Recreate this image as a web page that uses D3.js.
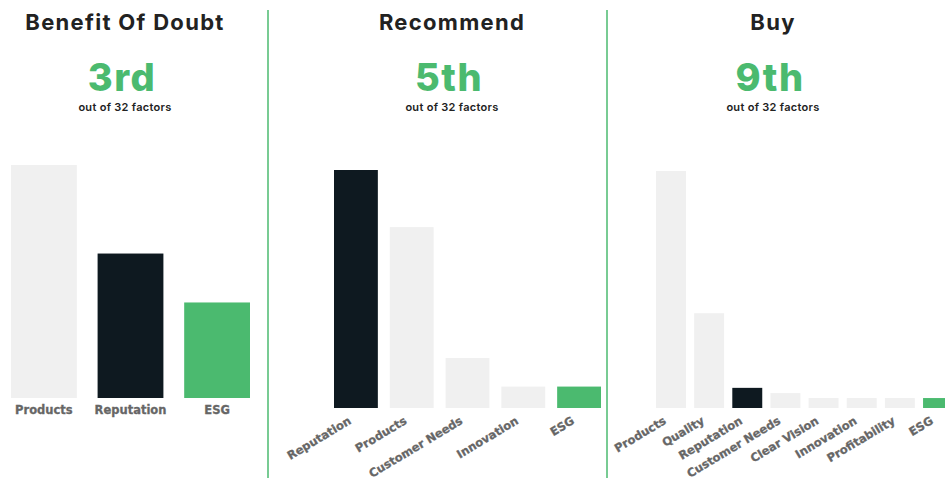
<!DOCTYPE html>
<html>
<head>
<meta charset="utf-8">
<script src="https://cdn.jsdelivr.net/npm/d3@7"></script>
<style>
  body { margin: 0; background: #fff; }
  svg { display: block; }
</style>
</head>
<body>
<div class="container"></div>
<script>
// values are relative to the top factor of each panel
var doubtCats = ['Products', 'Reputation', 'ESG'];
var doubtVals = [100, 62, 41];

var recCats = ['Reputation', 'Products', 'Customer Needs', 'Innovation', 'ESG'];
var recVals = [100, 76, 21, 9, 9];

var buyCats = ['Products', 'Quality', 'Reputation', 'Customer Needs', 'Clear Vision', 'Innovation', 'Profitability', 'ESG'];
var buyVals = [100, 40, 8.5, 6.3, 4.2, 4.2, 4.2, 4.2];

var titles = ['Benefit Of Doubt', 'Recommend', 'Buy'];
var ranks = ['3rd', '5th', '9th'];
var subtitle = 'out of 32 factors';

var W = 945, H = 480;
var GREEN = '#4bba6f', DARK = '#0e1920', GREY = '#f0f0f0';

var svg = d3.select('.container').append('svg').attr('width', W).attr('height', H);

function barColor(name) {
	if (name === 'Reputation') return DARK;
	if (name === 'ESG') return GREEN;
	return GREY;
}

var panels = [
	{cats: doubtCats, vals: doubtVals, x0: 11, x1: 250, base: 398, top: 165, pad: 0.24, cx: 125, rotate: false},
	{cats: recCats, vals: recVals, x0: 334, x1: 601, base: 408, top: 170, pad: 0.214, cx: 452, rotate: true},
	{cats: buyCats, vals: buyVals, x0: 656, x1: 953, base: 408, top: 171, pad: 0.215, cx: 773, rotate: true}
];

panels.forEach(function(p, i){
	var g = svg.append('g');

	var x = d3.scaleBand().domain(p.cats).range([p.x0, p.x1]).paddingInner(p.pad).paddingOuter(0);
	var y = d3.scaleLinear().domain([0, 100]).range([p.base, p.top]);

	g.append('text')
		.attr('x', p.cx).attr('y', 30)
		.attr('text-anchor', 'middle')
		.style('font-family', 'Inter, sans-serif')
		.style('font-weight', 700)
		.style('font-size', '22px')
		.style('letter-spacing', '1.3px')
		.style('fill', '#222')
		.text(titles[i]);

	g.append('text')
		.attr('x', p.cx - 3).attr('y', 91)
		.attr('text-anchor', 'middle')
		.style('font-family', 'Inter, sans-serif')
		.style('font-weight', 800)
		.style('font-size', '38px')
		.style('letter-spacing', '1.5px')
		.style('fill', GREEN)
		.text(ranks[i]);

	g.append('text')
		.attr('x', p.cx).attr('y', 111)
		.attr('text-anchor', 'middle')
		.style('font-family', 'Inter, sans-serif')
		.style('font-weight', 600)
		.style('font-size', '11px')
		.style('letter-spacing', '0.3px')
		.style('fill', '#222')
		.text(subtitle);

	g.selectAll('rect')
		.data(p.vals)
		.enter()
		.append('rect')
		.attr('x', function(d, j){ return x(p.cats[j]); })
		.attr('y', function(d){ return y(d); })
		.attr('width', x.bandwidth())
		.attr('height', function(d){ return y(0) - y(d); })
		.attr('fill', function(d, j){ return barColor(p.cats[j]); });

	var labels = g.selectAll('.lbl')
		.data(p.cats)
		.enter()
		.append('text')
		.attr('class', 'lbl')
		.style('font-family', '"DejaVu Sans", Verdana, sans-serif')
		.style('font-weight', 700)
		.style('font-size', '11.5px')
		.style('fill', '#666')
		.style('stroke', '#666')
		.style('stroke-width', 0.3)
		.text(function(d){ return d; });

	if (p.rotate) {
		labels.attr('text-anchor', 'end')
			.attr('transform', function(d){
				var cx = x(d) + x.bandwidth() / 2 - 4;
				return 'translate(' + cx + ',' + (p.base + 15) + ') rotate(-31)';
			});
	} else {
		labels.attr('text-anchor', 'middle')
			.attr('x', function(d){ return x(d) + x.bandwidth() / 2; })
			.attr('y', p.base + 16);
	}
});

// green dividers between panels
[268, 607].forEach(function(dx){
	svg.append('line')
		.attr('x1', dx).attr('x2', dx)
		.attr('y1', 10).attr('y2', 478)
		.attr('stroke', GREEN)
		.attr('stroke-width', 1.5);
});
</script>
</body>
</html>
